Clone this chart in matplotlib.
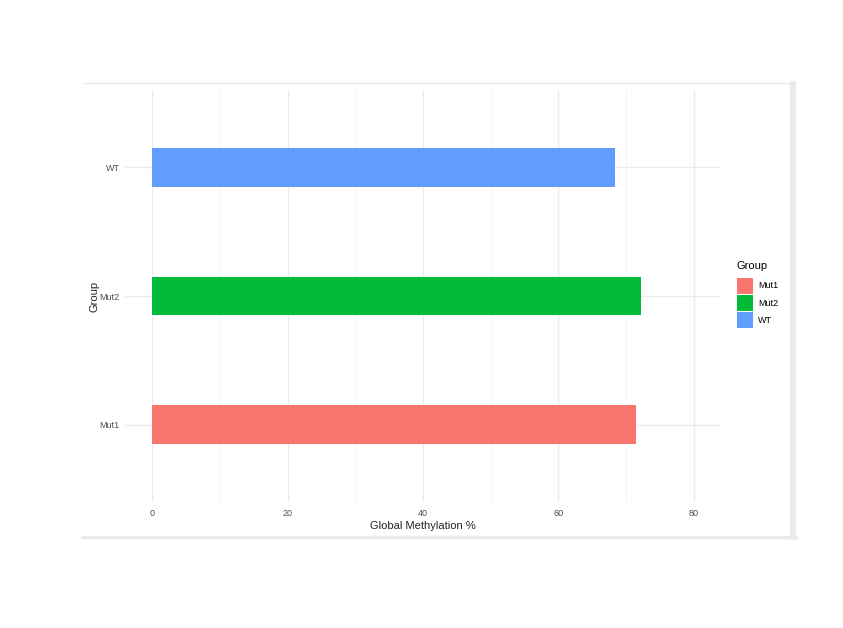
import matplotlib

matplotlib.use("Agg")

import matplotlib.pyplot as plt  # noqa: E402
from matplotlib.lines import Line2D  # noqa: E402
from matplotlib.patches import Patch  # noqa: E402

plt.rcParams["font.family"] = ["Liberation Sans", "DejaVu Sans"]

groups = ["Mut1", "Mut2", "WT"]
methylation = [71.5, 72.2, 68.3]
colors = ["#F8766D", "#00BA38", "#619CFF"]
x_ticks = [0, 20, 40, 60, 80]
x_minor = [10, 30, 50, 70]

fig = plt.figure(figsize=(8.43, 6.28), dpi=100)
ax = fig.add_axes([0.1483, 0.2006, 0.707, 0.656])

ypos = list(range(len(groups)))
bars = ax.barh(ypos, methylation, height=0.3, color=colors, zorder=3)

ax.set_xlim(-4, 84)
ax.set_ylim(-0.6, len(groups) - 0.4)
ax.set_xticks(x_ticks)
ax.set_xticks(x_minor, minor=True)
ax.set_yticks(ypos)
ax.set_yticklabels(groups)

ax.grid(True, which="major", color="#EBEBEB", linewidth=1.0, zorder=0)
ax.grid(True, which="minor", axis="x", color="#F4F4F4", linewidth=0.6, zorder=0)
for s in ax.spines.values():
    s.set_visible(False)
ax.tick_params(axis="both", which="both", length=0, labelsize=6.5,
               labelcolor="#4D4D4D")
ax.tick_params(axis="x", pad=5)
ax.tick_params(axis="y", pad=4)

ax.set_xlabel("Global Methylation %", fontsize=8, color="#222222", labelpad=2)
ax.set_ylabel("Group", fontsize=8, color="#222222", labelpad=0)

handles = [Patch(facecolor=c, edgecolor="none") for c in colors]
leg = fig.legend(handles, groups, title="Group", loc="upper left",
                 bbox_to_anchor=(0.874, 0.585), frameon=False,
                 fontsize=6.5, title_fontsize=8, handlelength=1.75,
                 handleheight=2.4, labelspacing=0.1, handletextpad=0.6,
                 borderaxespad=0, borderpad=0)
leg._legend_box.align = "left"
leg._legend_box.sep = 5

# light frame of the screenshot around the plot
fig.add_artist(Line2D([83 / 843, 792 / 843], [1 - 83 / 628, 1 - 83 / 628],
                      color="#E8E8E8", linewidth=1.0))
fig.add_artist(Line2D([793 / 843, 793 / 843], [1 - 84 / 628, 1 - 537 / 628],
                      color="#EBEBEB", linewidth=4.5))
fig.add_artist(Line2D([83 / 843, 796 / 843], [1 - 537 / 628, 1 - 537 / 628],
                      color="#EBEBEB", linewidth=2.5))

fig.savefig("out.png", dpi=100)
